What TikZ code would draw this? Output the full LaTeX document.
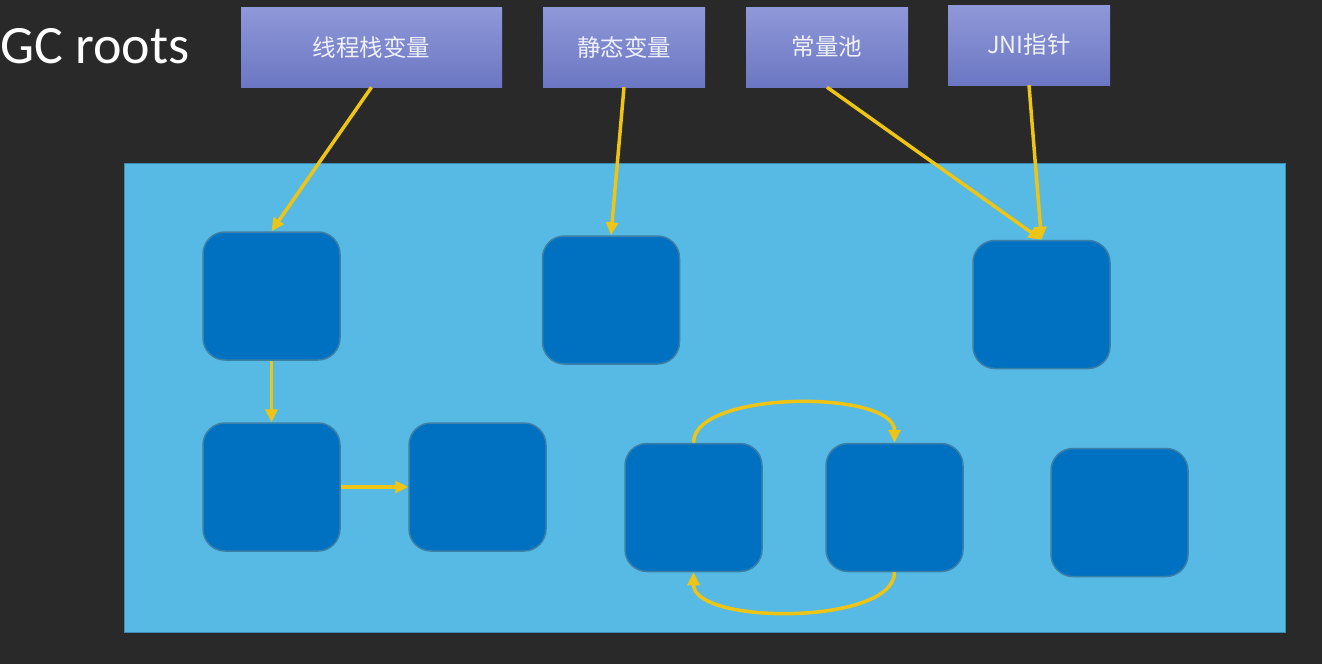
\documentclass[tikz,border=0pt]{standalone}
\usepackage{fontspec}
\setmainfont{Carlito}
\newfontfamily\cjk{Noto Sans CJK SC}
\usetikzlibrary{arrows.meta}
\definecolor{bgdark}{HTML}{292929}
\definecolor{panel}{HTML}{56BAE4}
\definecolor{panelline}{HTML}{3F8DB5}
\definecolor{objfill}{HTML}{0070C0}
\definecolor{objline}{HTML}{3C80A8}
\definecolor{roottop}{HTML}{8F98D8}
\definecolor{rootbot}{HTML}{6B77C3}
\definecolor{ref}{HTML}{EEC415}
\definecolor{roottext}{HTML}{EEF1FA}
\tikzset{
  obj/.style={draw=objline, line width=1.5pt, fill=objfill, rounded corners=22pt,
    minimum width=137pt, minimum height=128pt, inner sep=0pt},
  root/.style={top color=roottop, bottom color=rootbot, draw=none,
    minimum height=80pt, inner sep=0pt, text=roottext, font=\cjk\fontsize{23.5}{26}\selectfont},
  refarrow/.style={draw=ref, line width=3.5pt, -{Triangle[length=13pt,width=12pt]}}
}
\begin{document}
\begin{tikzpicture}[x=1pt,y=-1pt]
\useasboundingbox (0,0) rectangle (1322,664);
\fill[bgdark] (0,0) rectangle (1322,664);
\node[anchor=west, text=white, font=\fontsize{54}{62}\selectfont, inner sep=0pt] (title) at (0,46) {GC roots};
\node[draw=panelline, line width=1pt, fill=panel, minimum width=1161pt, minimum height=469pt, inner sep=0pt] (heap) at (704.5,397.5) {};
% root boxes
\node[root, minimum width=261pt] (r1) at (371.5,47) {线程栈变量};
\node[root, minimum width=162pt] (r2) at (624,47) {静态变量};
\node[root, minimum width=162pt] (r3) at (827,47) {常量池};
\node[root, minimum width=162pt] (r4) at (1029,45) {JNI指针};
% objects
\node[obj] (a) at (271.5,296) {};
\node[obj] (b) at (611,300) {};
\node[obj] (c) at (1041.5,304.5) {};
\node[obj] (d) at (271.5,487) {};
\node[obj] (e) at (477.5,487) {};
\node[obj] (f) at (693.5,507.5) {};
\node[obj] (g) at (894.5,507.5) {};
\node[obj] (h) at (1119.5,512.5) {};
% references
\draw[refarrow] (r1.south) -- (a.north);
\draw[refarrow] (r2.south) -- (b.north);
\draw[refarrow] (r3.south) -- (c.north);
\draw[refarrow] (r4.south) -- (c.north);
\draw[refarrow] (a.south) -- (d.north);
\draw[refarrow] (d.east) -- (e.west);
\draw[refarrow] (f.north) .. controls +(0,-53) and +(0,-53) .. (g.north);
\draw[refarrow] (g.south) .. controls +(0,53) and +(0,53) .. (f.south);
\end{tikzpicture}
\end{document}
